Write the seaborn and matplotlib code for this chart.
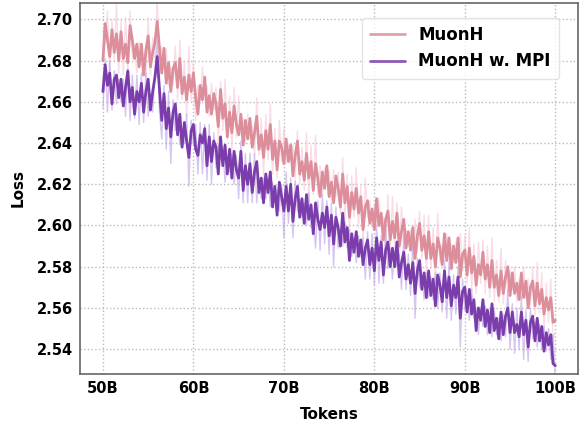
import numpy as np
import pandas as pd
import seaborn as sns
import matplotlib.pyplot as plt

# token axis: 50B -> 100B, one point every 0.25B
tokens = np.linspace(50, 100, 201)

muonh_smooth = [
    2.680, 2.698, 2.690, 2.682, 2.695, 2.684, 2.693, 2.680,
    2.694, 2.681, 2.688, 2.679, 2.697, 2.690, 2.681, 2.688,
    2.677, 2.688, 2.673, 2.685, 2.692, 2.677, 2.684, 2.689,
    2.699, 2.686, 2.674, 2.686, 2.669, 2.679, 2.665, 2.676,
    2.679, 2.667, 2.681, 2.664, 2.672, 2.661, 2.673, 2.665,
    2.674, 2.662, 2.654, 2.668, 2.661, 2.672, 2.655, 2.663,
    2.654, 2.664, 2.659, 2.648, 2.666, 2.652, 2.659, 2.643,
    2.655, 2.645, 2.658, 2.649, 2.644, 2.654, 2.639, 2.651,
    2.642, 2.652, 2.638, 2.645, 2.653, 2.637, 2.644, 2.633,
    2.646, 2.637, 2.649, 2.632, 2.641, 2.627, 2.641, 2.638,
    2.630, 2.642, 2.631, 2.639, 2.624, 2.634, 2.641, 2.625,
    2.631, 2.622, 2.635, 2.623, 2.631, 2.617, 2.630, 2.623,
    2.614, 2.626, 2.618, 2.629, 2.614, 2.621, 2.611, 2.624,
    2.618, 2.609, 2.625, 2.611, 2.619, 2.604, 2.616, 2.608,
    2.618, 2.606, 2.614, 2.598, 2.609, 2.612, 2.601, 2.608,
    2.598, 2.613, 2.600, 2.606, 2.593, 2.603, 2.607, 2.593,
    2.602, 2.594, 2.606, 2.590, 2.597, 2.603, 2.589, 2.597,
    2.588, 2.599, 2.584, 2.595, 2.601, 2.588, 2.595, 2.584,
    2.597, 2.584, 2.591, 2.580, 2.594, 2.589, 2.581, 2.596,
    2.583, 2.594, 2.579, 2.590, 2.582, 2.594, 2.575, 2.586,
    2.588, 2.576, 2.589, 2.577, 2.585, 2.571, 2.581, 2.576,
    2.587, 2.574, 2.581, 2.570, 2.583, 2.570, 2.576, 2.566,
    2.578, 2.567, 2.575, 2.580, 2.566, 2.577, 2.567, 2.572,
    2.564, 2.577, 2.565, 2.573, 2.560, 2.570, 2.573, 2.561,
    2.572, 2.562, 2.569, 2.557, 2.565, 2.559, 2.565, 2.553,
    2.554,
]

muonh_raw = [
    2.695, 2.688, 2.704, 2.675, 2.700, 2.680, 2.708, 2.674,
    2.700, 2.673, 2.701, 2.676, 2.704, 2.681, 2.688, 2.674,
    2.689, 2.678, 2.683, 2.672, 2.701, 2.673, 2.691, 2.681,
    2.710, 2.675, 2.687, 2.677, 2.686, 2.668, 2.677, 2.668,
    2.687, 2.661, 2.690, 2.661, 2.680, 2.653, 2.687, 2.660,
    2.679, 2.651, 2.668, 2.659, 2.677, 2.663, 2.668, 2.653,
    2.669, 2.656, 2.667, 2.641, 2.670, 2.646, 2.671, 2.642,
    2.663, 2.636, 2.667, 2.643, 2.663, 2.644, 2.652, 2.640,
    2.654, 2.642, 2.648, 2.634, 2.662, 2.634, 2.652, 2.624,
    2.654, 2.632, 2.659, 2.625, 2.647, 2.623, 2.651, 2.631,
    2.647, 2.630, 2.640, 2.631, 2.639, 2.623, 2.646, 2.620,
    2.638, 2.617, 2.645, 2.613, 2.639, 2.615, 2.644, 2.615,
    2.629, 2.614, 2.628, 2.619, 2.627, 2.612, 2.627, 2.614,
    2.626, 2.605, 2.633, 2.603, 2.625, 2.596, 2.624, 2.604,
    2.628, 2.599, 2.619, 2.592, 2.623, 2.604, 2.612, 2.599,
    2.610, 2.600, 2.613, 2.599, 2.604, 2.590, 2.615, 2.588,
    2.614, 2.589, 2.611, 2.584, 2.609, 2.590, 2.598, 2.590,
    2.598, 2.586, 2.603, 2.587, 2.607, 2.584, 2.605, 2.577,
    2.605, 2.579, 2.599, 2.571, 2.606, 2.582, 2.591, 2.584,
    2.596, 2.582, 2.591, 2.582, 2.592, 2.582, 2.596, 2.578,
    2.595, 2.572, 2.599, 2.568, 2.591, 2.567, 2.592, 2.572,
    2.593, 2.567, 2.590, 2.565, 2.594, 2.563, 2.583, 2.563,
    2.589, 2.562, 2.583, 2.566, 2.578, 2.569, 2.580, 2.563,
    2.574, 2.564, 2.580, 2.565, 2.574, 2.561, 2.580, 2.556,
    2.582, 2.557, 2.577, 2.550, 2.572, 2.553, 2.574, 2.545,
    2.548,
]

mpi_smooth = [
    2.665, 2.678, 2.668, 2.674, 2.659, 2.671, 2.673, 2.662,
    2.671, 2.658, 2.667, 2.675, 2.660, 2.667, 2.654, 2.665,
    2.660, 2.669, 2.655, 2.665, 2.671, 2.656, 2.665, 2.672,
    2.682, 2.666, 2.651, 2.664, 2.647, 2.657, 2.643, 2.655,
    2.659, 2.644, 2.654, 2.638, 2.650, 2.641, 2.633, 2.646,
    2.649, 2.637, 2.634, 2.644, 2.640, 2.647, 2.629, 2.643,
    2.631, 2.641, 2.638, 2.625, 2.643, 2.629, 2.639, 2.625,
    2.637, 2.623, 2.636, 2.627, 2.623, 2.636, 2.617, 2.629,
    2.620, 2.630, 2.616, 2.626, 2.631, 2.616, 2.623, 2.611,
    2.625, 2.616, 2.626, 2.609, 2.619, 2.605, 2.621, 2.614,
    2.607, 2.619, 2.607, 2.620, 2.602, 2.613, 2.619, 2.604,
    2.613, 2.601, 2.615, 2.603, 2.610, 2.596, 2.611, 2.603,
    2.598, 2.606, 2.599, 2.609, 2.595, 2.605, 2.591, 2.604,
    2.599, 2.590, 2.606, 2.592, 2.599, 2.583, 2.596, 2.587,
    2.597, 2.585, 2.593, 2.581, 2.589, 2.593, 2.581, 2.589,
    2.578, 2.594, 2.583, 2.592, 2.576, 2.588, 2.592, 2.580,
    2.589, 2.580, 2.592, 2.575, 2.582, 2.587, 2.574, 2.581,
    2.572, 2.582, 2.567, 2.578, 2.583, 2.569, 2.577, 2.565,
    2.578, 2.566, 2.574, 2.561, 2.576, 2.571, 2.563, 2.578,
    2.565, 2.575, 2.561, 2.571, 2.565, 2.575, 2.555, 2.568,
    2.570, 2.558, 2.569, 2.557, 2.564, 2.549, 2.560, 2.554,
    2.564, 2.551, 2.559, 2.548, 2.562, 2.549, 2.555, 2.545,
    2.558, 2.547, 2.556, 2.560, 2.548, 2.558, 2.548, 2.552,
    2.546, 2.558, 2.547, 2.554, 2.541, 2.553, 2.556, 2.544,
    2.555, 2.544, 2.551, 2.539, 2.548, 2.542, 2.547, 2.533,
    2.532,
]

mpi_raw = [
    2.657, 2.681, 2.655, 2.680, 2.656, 2.675, 2.659, 2.671,
    2.660, 2.671, 2.653, 2.676, 2.651, 2.673, 2.652, 2.673,
    2.649, 2.674, 2.650, 2.674, 2.653, 2.664, 2.655, 2.673,
    2.690, 2.656, 2.642, 2.668, 2.637, 2.665, 2.630, 2.661,
    2.646, 2.654, 2.639, 2.647, 2.640, 2.654, 2.619, 2.651,
    2.639, 2.649, 2.625, 2.650, 2.625, 2.649, 2.622, 2.649,
    2.620, 2.645, 2.628, 2.639, 2.632, 2.638, 2.621, 2.633,
    2.626, 2.635, 2.620, 2.634, 2.613, 2.641, 2.611, 2.635,
    2.611, 2.635, 2.611, 2.635, 2.611, 2.623, 2.613, 2.623,
    2.613, 2.623, 2.609, 2.621, 2.611, 2.617, 2.607, 2.620,
    2.594, 2.626, 2.601, 2.623, 2.594, 2.622, 2.607, 2.613,
    2.604, 2.611, 2.600, 2.616, 2.599, 2.605, 2.589, 2.612,
    2.588, 2.615, 2.591, 2.612, 2.586, 2.611, 2.580, 2.609,
    2.589, 2.598, 2.590, 2.602, 2.589, 2.598, 2.585, 2.594,
    2.582, 2.595, 2.585, 2.594, 2.574, 2.597, 2.574, 2.596,
    2.571, 2.600, 2.572, 2.595, 2.572, 2.599, 2.579, 2.589,
    2.574, 2.588, 2.580, 2.586, 2.569, 2.595, 2.569, 2.586,
    2.566, 2.591, 2.555, 2.584, 2.570, 2.576, 2.564, 2.577,
    2.565, 2.575, 2.564, 2.577, 2.560, 2.577, 2.558, 2.583,
    2.555, 2.582, 2.554, 2.576, 2.557, 2.580, 2.541, 2.574,
    2.559, 2.566, 2.554, 2.569, 2.555, 2.560, 2.547, 2.560,
    2.551, 2.561, 2.547, 2.558, 2.546, 2.560, 2.547, 2.555,
    2.544, 2.557, 2.546, 2.569, 2.540, 2.562, 2.538, 2.560,
    2.540, 2.566, 2.535, 2.559, 2.534, 2.560, 2.545, 2.553,
    2.541, 2.552, 2.540, 2.551, 2.539, 2.550, 2.535, 2.547,
    2.526,
]

xtick_vals = [50, 60, 70, 80, 90, 100]
xtick_labels = ["50B", "60B", "70B", "80B", "90B", "100B"]

pink = "#dc8e9b"
purple = "#7a3dab"


def main():
    sns.set_style("whitegrid")
    plt.rcParams["text.color"] = "black"
    plt.rcParams["axes.labelcolor"] = "black"
    plt.rcParams["xtick.color"] = "black"
    plt.rcParams["ytick.color"] = "black"

    fig, ax = plt.subplots(figsize=(5.82, 4.21), dpi=100)
    fig.subplots_adjust(left=0.138, right=0.993, top=0.993, bottom=0.112)

    # faint raw curves
    sns.lineplot(x=tokens, y=muonh_raw, color="#f4c0d5", alpha=0.55, lw=1, ax=ax)
    sns.lineplot(x=tokens, y=mpi_raw, color="#bb9fe4", alpha=0.6, lw=1, ax=ax)

    # smoothed curves
    sns.lineplot(x=tokens, y=muonh_smooth, color=pink, lw=2.0, label="MuonH", ax=ax)
    sns.lineplot(x=tokens, y=mpi_smooth, color=purple, lw=2.0, label="MuonH w. MPI", ax=ax)

    ax.set_xlim(47.5, 102.5)
    ax.set_ylim(2.528, 2.708)
    ax.set_xticks(xtick_vals)
    ax.set_xticklabels(xtick_labels)
    ax.set_yticks([2.54, 2.56, 2.58, 2.60, 2.62, 2.64, 2.66, 2.68, 2.70])
    ax.yaxis.set_major_formatter(plt.FormatStrFormatter("%.2f"))

    ax.grid(True, linestyle=":", color="#bbbbbb", lw=1)
    for s in ax.spines.values():
        s.set_color("#666666")
        s.set_linewidth(1.2)
    ax.tick_params(axis="both", length=3, width=1, color="#666666",
                   labelcolor="black", labelsize=10.5, pad=2)
    for lab in ax.get_xticklabels() + ax.get_yticklabels():
        lab.set_fontweight("bold")

    ax.set_xlabel("Tokens", fontsize=11, fontweight="bold", labelpad=8, color="black")
    ax.set_ylabel("Loss", fontsize=11, fontweight="bold", labelpad=8, color="black")

    leg = ax.legend(loc="upper right", prop={"weight": "bold", "size": 12},
                    frameon=True, handlelength=2.1, borderpad=0.5,
                    borderaxespad=0, bbox_to_anchor=(0.962, 0.96))
    leg.get_frame().set_edgecolor("#dddddd")
    for line in leg.get_lines():
        line.set_linewidth(2)
        line.set_alpha(0.85)
    for t in leg.get_texts():
        t.set_color("black")

    fig.savefig("out.png", dpi=100)


main()
